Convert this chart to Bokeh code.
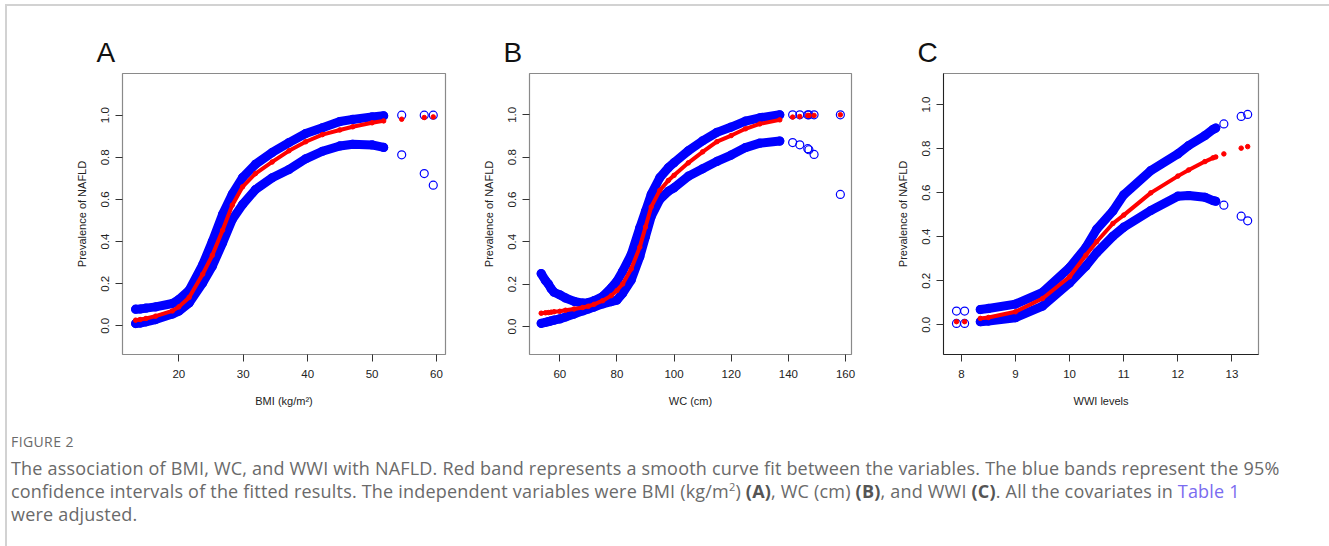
from bokeh.plotting import figure
from bokeh.models import FixedTicker, Range1d, Div, NumeralTickFormatter
from bokeh.layouts import column, row
from bokeh.embed import file_html
from bokeh.resources import INLINE

# ---------------- data ----------------
# Panel A: BMI
a_x = [13.3, 14.0, 14.9, 16.4, 19.0, 20.0, 21.6, 23.7, 25.2, 26.8, 28.3, 29.9, 31.9,
       34.5, 37.1, 39.7, 42.3, 45.0, 47.0, 50.0, 51.8]
a_upper = [0.079, 0.08, 0.084, 0.09, 0.106, 0.125, 0.169, 0.29, 0.40, 0.53, 0.625, 0.704,
           0.767, 0.823, 0.87, 0.913, 0.94, 0.97, 0.98, 0.992, 0.997]
a_fit = [0.027, 0.03, 0.035, 0.046, 0.071, 0.09, 0.135, 0.245, 0.335, 0.454, 0.573, 0.66,
         0.723, 0.778, 0.831, 0.874, 0.908, 0.93, 0.945, 0.964, 0.973]
a_lower = [0.011, 0.013, 0.019, 0.03, 0.056, 0.07, 0.109, 0.204, 0.283, 0.394, 0.505, 0.576,
           0.647, 0.703, 0.742, 0.793, 0.829, 0.854, 0.862, 0.859, 0.847]
a_out_x = [54.6, 58.1, 59.5]
a_out_upper = [1.0, 1.0, 1.0]
a_out_fit = [0.981, 0.989, 0.992]
a_out_lower = [0.812, 0.723, 0.668]

# Panel B: WC
b_x = [53.5, 55, 56, 57, 58, 60, 62, 65, 68, 70, 72, 75, 78, 80, 82, 85, 88, 90, 92, 95,
       98, 100, 105, 110, 115, 120, 125, 130, 137]
b_upper = [0.25, 0.217, 0.201, 0.178, 0.162, 0.15, 0.135, 0.119, 0.111, 0.113, 0.122, 0.142,
           0.182, 0.214, 0.261, 0.34, 0.466, 0.545, 0.624, 0.703, 0.75, 0.774, 0.83, 0.877,
           0.917, 0.942, 0.97, 0.986, 1.0]
b_fit = [0.063, 0.065, 0.066, 0.068, 0.07, 0.072, 0.077, 0.083, 0.09, 0.096, 0.105, 0.122,
         0.146, 0.17, 0.201, 0.272, 0.375, 0.47, 0.565, 0.643, 0.69, 0.714, 0.773, 0.825,
         0.873, 0.902, 0.934, 0.957, 0.976]
b_lower = [0.015, 0.02, 0.023, 0.027, 0.03, 0.036, 0.045, 0.059, 0.074, 0.083, 0.092, 0.107,
           0.118, 0.125, 0.157, 0.22, 0.33, 0.425, 0.52, 0.6, 0.639, 0.655, 0.71, 0.745,
           0.78, 0.81, 0.845, 0.866, 0.876]
b_out_x = [141.5, 144, 146.8, 147.2, 149, 158.2]
b_out_upper = [1.0, 1.0, 1.0, 1.0, 1.0, 1.0]
b_out_fit = [0.989, 0.992, 0.997, 0.997, 0.997, 1.0]
b_out_lower = [0.869, 0.858, 0.84, 0.835, 0.813, 0.624]

# Panel C: WWI
c_x = [8.35, 8.5, 9.0, 9.5, 10.0, 10.3, 10.5, 10.8, 11.0, 11.5, 12.0, 12.2, 12.5, 12.65, 12.7]
c_upper = [0.069, 0.074, 0.094, 0.147, 0.26, 0.351, 0.434, 0.517, 0.59, 0.70, 0.776, 0.814,
           0.859, 0.887, 0.893]
c_fit = [0.029, 0.033, 0.059, 0.119, 0.218, 0.316, 0.377, 0.46, 0.498, 0.599, 0.675, 0.703,
         0.741, 0.758, 0.762]
c_lower = [0.014, 0.017, 0.032, 0.085, 0.19, 0.266, 0.327, 0.402, 0.443, 0.519, 0.584, 0.587,
           0.579, 0.564, 0.561]
c_out_x = [7.91, 8.06, 12.85, 13.17, 13.29]
c_out_upper = [0.062, 0.062, 0.912, 0.946, 0.955]
c_out_fit = [0.014, 0.014, 0.776, 0.802, 0.809]
c_out_lower = [0.006, 0.006, 0.543, 0.493, 0.472]

y_ticks = [0.0, 0.2, 0.4, 0.6, 0.8, 1.0]
a_xticks = [20, 30, 40, 50, 60]
b_xticks = [60, 80, 100, 120, 140, 160]
c_xticks = [8, 9, 10, 11, 12, 13]

BLUE = "#0000FF"
RED = "#FF0000"
FONT = "Liberation Sans"


def panel(letter, xlabel, xr, yr, xticks, fw, left, right, x, up, fit, lo,
          ox, oup, ofit, olo, dark_axes=False):
    p = figure(frame_width=fw, frame_height=281, min_border_left=left,
               min_border_right=right, min_border_top=73, min_border_bottom=70,
               x_range=Range1d(*xr), y_range=Range1d(*yr),
               output_backend="svg", toolbar_location=None, title=letter)
    p.grid.visible = False
    p.outline_line_color = "#8a8a8a"
    p.outline_line_width = 1.2
    p.background_fill_color = "white"
    p.border_fill_color = "white"

    p.title.text_font = FONT
    p.title.text_font_size = "28px"
    p.title.text_font_style = "normal"
    p.title.text_color = "#111111"
    p.title.align = "left"
    p.title.offset = -26
    p.title.standoff = 12

    for ax in (p.xaxis[0], p.yaxis[0]):
        ax.major_tick_out = 7
        ax.major_tick_in = 0
        ax.minor_tick_out = 0
        ax.minor_tick_in = 0
        ax.major_tick_line_color = "#333333"
        ax.axis_line_color = "#222222" if dark_axes else None
        ax.major_label_text_font = FONT
        ax.major_label_text_font_size = "11.5px"
        ax.major_label_text_color = "#222222"
        ax.axis_label_text_font = FONT
        ax.axis_label_text_font_size = "11px"
        ax.axis_label_text_font_style = "normal"
        ax.axis_label_text_color = "#222222"

    p.xaxis.ticker = FixedTicker(ticks=xticks)
    p.yaxis.ticker = FixedTicker(ticks=y_ticks)
    p.yaxis.formatter = NumeralTickFormatter(format="0.0")
    p.yaxis.major_label_orientation = "vertical"
    p.xaxis.axis_label = xlabel
    p.yaxis.axis_label = "Prevalence of NAFLD"
    p.xaxis.major_label_standoff = 8
    p.xaxis.axis_label_standoff = 14
    p.yaxis.major_label_standoff = 6
    p.yaxis.axis_label_standoff = 11

    # confidence bands (open blue circles, dense)
    for ys in (up, lo):
        p.line(x, ys, line_color=BLUE, line_width=9, line_cap="round", line_join="round")
        p.scatter(x, ys, marker="circle", size=8, line_color=BLUE, fill_color=None,
                  line_width=1.2)
    for ys in (oup, olo):
        p.scatter(ox, ys, marker="circle", size=8, line_color=BLUE, fill_color=None,
                  line_width=1.2)
    # fitted curve (red filled dots)
    p.line(x, fit, line_color=RED, line_width=4, line_cap="round", line_join="round")
    p.scatter(x, fit, marker="circle", size=4.5, line_color=RED, fill_color=RED)
    p.scatter(ox, ofit, marker="circle", size=4.5, line_color=RED, fill_color=RED)
    return p


pa = panel("A", "BMI (kg/m\u00b2)", (11.26, 61.4), (-0.136, 1.198), a_xticks, 323, 122, 20,
           a_x, a_upper, a_fit, a_lower, a_out_x, a_out_upper, a_out_fit, a_out_lower)
pb = panel("B", "WC (cm)", (49.4, 162.1), (-0.132, 1.195), b_xticks, 322, 64, 20,
           b_x, b_upper, b_fit, b_lower, b_out_x, b_out_upper, b_out_fit, b_out_lower)
pc = panel("C", "WWI levels", (7.67, 13.49), (-0.135, 1.141), c_xticks, 315, 72, 50,
           c_x, c_upper, c_fit, c_lower, c_out_x, c_out_upper, c_out_fit, c_out_lower,
           dark_axes=True)

caption_html = """
<div style="position:fixed;left:5px;top:4px;width:1330px;height:2px;background:#d2d2d2;"></div>
<div style="position:fixed;left:5px;top:4px;width:2px;height:560px;background:#d2d2d2;"></div>
<div style="font-family:'Open Sans', Lato, sans-serif;color:#6a6a6a;white-space:nowrap;">
<div style="position:absolute;left:6px;top:3px;font-size:14px;letter-spacing:0.4px;">FIGURE 2</div>
<div style="position:absolute;left:6px;top:28px;font-size:18px;line-height:23px;letter-spacing:0.2px;">
The association of BMI, WC, and WWI with NAFLD. Red band represents a smooth curve fit between the variables. The blue bands represent the 95%<br>
confidence intervals of the fitted results. The independent variables were BMI (kg/m<sup style="font-size:11px;line-height:0;">2</sup>) <b style="font-weight:700;color:#555;">(A)</b>, WC (cm) <b style="font-weight:700;color:#555;">(B)</b>, and WWI <b style="font-weight:700;color:#555;">(C)</b>. All the covariates in <span style="color:#7a6cf0;">Table 1</span><br>
were adjusted.
</div>
</div>
"""
cap = Div(text=caption_html, width=1313, height=106,
          styles={"position": "relative"})

layout = column(row(pa, pb, pc, spacing=0), cap, spacing=0)

html = file_html(layout, INLINE, title="Figure 2")
open("out.html", "w").write(html)
